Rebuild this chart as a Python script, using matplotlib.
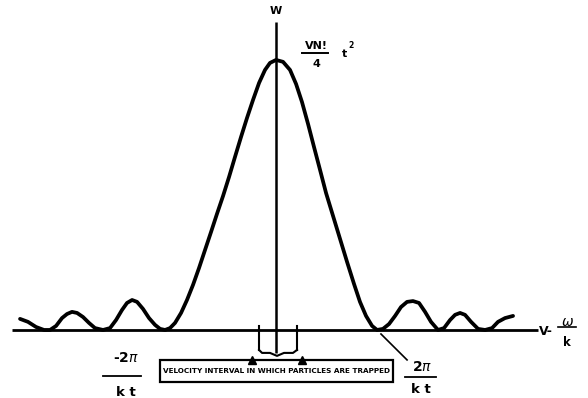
import matplotlib
matplotlib.use("Agg")
import matplotlib.pyplot as plt
from matplotlib.patches import Rectangle

# curve: x in units of 2*pi/kt, y as fraction of the peak
wave_x = [-2.415, -2.340, -2.264, -2.189, -2.132, -2.075, -2.019, -1.972, -1.925, -1.877,
          -1.821, -1.764, -1.708, -1.632, -1.566, -1.509, -1.453, -1.406, -1.358, -1.311,
          -1.255, -1.198, -1.142, -1.094, -1.047, -1.000, -0.953, -0.896, -0.840, -0.783,
          -0.726, -0.670, -0.613, -0.557, -0.500, -0.443, -0.387, -0.330, -0.274, -0.217,
          -0.160, -0.104, -0.057, 0.000, 0.066, 0.132, 0.189, 0.245, 0.302, 0.358,
          0.415, 0.472, 0.538, 0.604, 0.670, 0.736, 0.792, 0.849, 0.906, 0.953,
          1.009, 1.066, 1.123, 1.179, 1.236, 1.292, 1.349, 1.406, 1.462, 1.528,
          1.585, 1.642, 1.689, 1.736, 1.783, 1.840, 1.906, 1.972, 2.038, 2.094,
          2.160, 2.236]
wave_y = [0.041, 0.030, 0.011, 0.000, 0.000, 0.015, 0.044, 0.059, 0.067, 0.063,
          0.048, 0.026, 0.007, 0.000, 0.007, 0.037, 0.074, 0.100, 0.111, 0.104,
          0.078, 0.044, 0.019, 0.004, 0.000, 0.007, 0.026, 0.063, 0.111, 0.167,
          0.230, 0.296, 0.363, 0.430, 0.496, 0.567, 0.641, 0.715, 0.785, 0.852,
          0.915, 0.963, 0.989, 1.000, 0.993, 0.963, 0.911, 0.844, 0.763, 0.678,
          0.593, 0.507, 0.422, 0.337, 0.252, 0.170, 0.104, 0.052, 0.015, 0.000,
          0.004, 0.022, 0.052, 0.085, 0.104, 0.107, 0.100, 0.067, 0.030, 0.000,
          0.007, 0.037, 0.056, 0.063, 0.056, 0.030, 0.004, 0.000, 0.007, 0.030,
          0.044, 0.052]

# trapping interval marks and the brace below the axis
trap_x = [-0.160, 0.198]
brace_x = [-0.160, -0.132, -0.057, 0.009, 0.075, 0.160, 0.198]
brace_y = [-0.074, -0.085, -0.085, -0.096, -0.085, -0.085, -0.074]
arrow_x = [-0.226, 0.245]

box_text = "VELOCITY INTERVAL IN WHICH PARTICLES ARE TRAPPED"

fig = plt.figure(figsize=(5.88, 3.98), dpi=100)
ax = fig.add_axes([0, 0, 1, 1])
ax.set_xlim(-2.604, 2.943)
ax.set_ylim(-0.252, 1.222)
ax.axis("off")

k = "black"
# axes of the sketch
ax.plot([-2.491, 2.472], [0, 0], color=k, lw=2.0, solid_capstyle="butt")
ax.plot([0, 0], [-0.085, 1.141], color=k, lw=1.8, solid_capstyle="butt")

ax.plot(wave_x, wave_y, color=k, lw=2.7, solid_joinstyle="round", solid_capstyle="round")

for tx in trap_x:
    ax.plot([tx, tx], [0.015, -0.074], color=k, lw=1.5)
ax.plot(brace_x, brace_y, color=k, lw=1.5)
ax.plot(arrow_x, [-0.112] * 2, ls="none", marker="^", ms=6, color=k)

# box
ax.add_patch(Rectangle((-1.094, -0.193), 2.198, 0.082, fill=False, ec=k, lw=1.6))
ax.text(0.005, -0.152, box_text, ha="center", va="center", fontsize=5.2,
        fontweight="bold", color=k)

lab = dict(color=k, fontweight="bold", ha="center", va="center")
ax.text(0, 1.18, "W", fontsize=8, **lab)
ax.text(0.377, 1.052, "VN!", fontsize=8, **lab)
ax.plot([0.245, 0.491], [1.026, 1.026], color=k, lw=1.4)
ax.text(0.377, 0.985, "4", fontsize=8, **lab)
ax.text(0.65, 1.022, "t", fontsize=8, **lab)
ax.text(0.71, 1.052, "2", fontsize=5.5, **lab)

# -2pi/kt
ax.text(-1.42, -0.104, "-2$\\pi$", fontsize=10, **lab)
ax.plot([-1.63, -1.27], [-0.17, -0.17], color=k, lw=1.3)
ax.text(-1.42, -0.23, "k t", fontsize=9.5, **lab)

# 2pi/kt with pointer to the zero crossing
ax.text(1.38, -0.137, "2$\\pi$", fontsize=10, **lab)
ax.plot([1.22, 1.51], [-0.174, -0.174], color=k, lw=1.3)
ax.text(1.364, -0.222, "k t", fontsize=9.5, **lab)
ax.plot([1.236, 0.99], [-0.111, -0.015], color=k, lw=1.2)

# V - omega/k
ax.text(2.48, -0.007, "V-", fontsize=9, fontweight="bold", ha="left", va="center", color=k)
ax.text(2.745, 0.03, "$\\omega$", fontsize=10, **lab)
ax.plot([2.66, 2.83], [0.010, 0.010], color=k, lw=1.2)
ax.text(2.745, -0.045, "k", fontsize=8.5, **lab)

fig.savefig("out.png", dpi=100)
